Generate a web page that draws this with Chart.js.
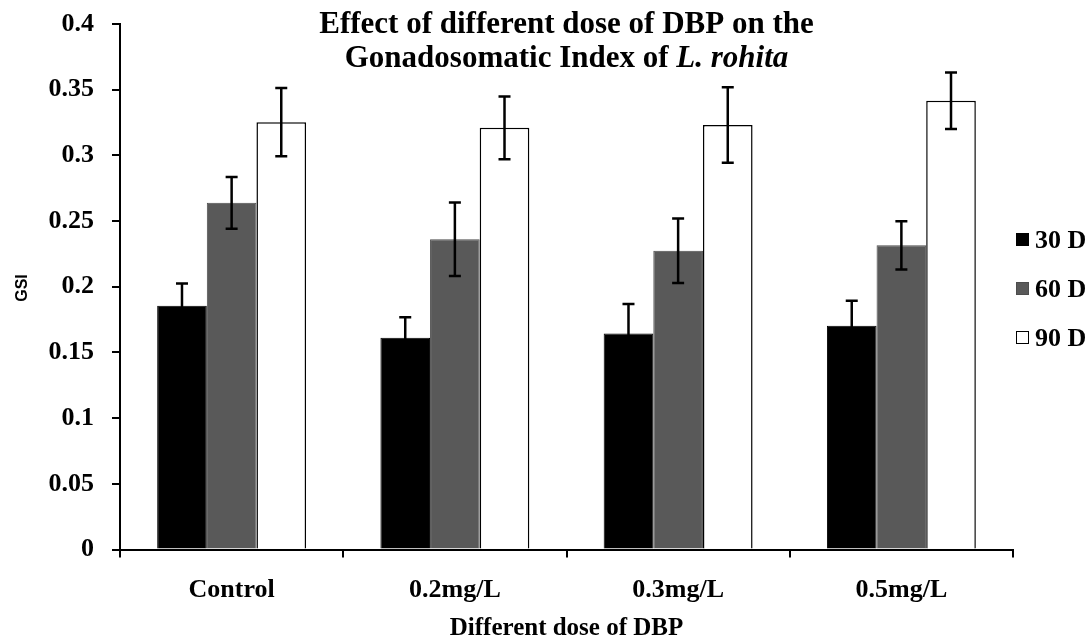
<!DOCTYPE html>
<html>
<head>
<meta charset="utf-8">
<script src="https://cdn.jsdelivr.net/npm/chart.js@4/dist/chart.umd.min.js"></script>
<style>
  html, body { margin: 0; padding: 0; background: #fff; }
  #wrap { width: 1089px; height: 641px; position: relative; }
</style>
</head>
<body>
<div id="wrap"><canvas id="c" width="1089" height="641"></canvas></div>
<script>
const categories = ["Control", "0.2mg/L", "0.3mg/L", "0.5mg/L"];
const seriesNames = ["30 D", "60 D", "90 D"];
const gsi30 = [0.1855, 0.1612, 0.1645, 0.1703];
const gsi60 = [0.2639, 0.2361, 0.2274, 0.2315];
const gsi90 = [0.3253, 0.3210, 0.3231, 0.3416];
const err30 = [0.017, 0.0155, 0.0223, 0.019];
const err60 = [0.0197, 0.028, 0.0245, 0.0184];
const err90 = [0.0259, 0.0239, 0.0287, 0.0215];
const titleLine1 = "Effect of different dose of DBP on the";
const titleLine2a = "Gonadosomatic Index of ";
const titleLine2b = "L. rohita";
const yTitle = "GSI";
const xTitle = "Different dose of DBP";

const SERIF = "'Liberation Serif', 'Times New Roman', serif";
const SANS = "'Liberation Sans', Arial, sans-serif";

const fills = ["#000000", "#595959", "#ffffff"];
const borders = ["#000000", "#4d4d4d", "#000000"];
const errs = [err30, err60, err90];

const errorBarPlugin = {
  id: 'errorBars',
  afterDatasetsDraw(chart) {
    const ctx = chart.ctx;
    const ys = chart.scales.y;
    ctx.save();
    ctx.strokeStyle = '#000';
    ctx.lineWidth = 2.5;
    chart.data.datasets.forEach((ds, di) => {
      const meta = chart.getDatasetMeta(di);
      meta.data.forEach((bar, i) => {
        const v = ds.data[i], e = errs[di][i];
        const yt = ys.getPixelForValue(v + e);
        const yb = ys.getPixelForValue(v - e);
        const x = bar.x, w = 6;
        ctx.beginPath();
        ctx.moveTo(x, yt); ctx.lineTo(x, yb);
        ctx.moveTo(x - w, yt); ctx.lineTo(x + w, yt);
        ctx.moveTo(x - w, yb); ctx.lineTo(x + w, yb);
        ctx.stroke();
      });
    });
    ctx.restore();
  }
};

const decorPlugin = {
  id: 'decor',
  afterDraw(chart) {
    const ctx = chart.ctx;
    const ca = chart.chartArea;
    ctx.save();
    // title
    ctx.fillStyle = '#000';
    ctx.textBaseline = 'alphabetic';
    const cx = (ca.left + ca.right) / 2;
    ctx.font = "bold 31px " + SERIF;
    ctx.textAlign = 'center';
    ctx.fillText(titleLine1, cx, 33);
    ctx.textAlign = 'left';
    const w1 = ctx.measureText(titleLine2a).width;
    ctx.font = "italic bold 31px " + SERIF;
    const w2 = ctx.measureText(titleLine2b).width;
    const sx = cx - (w1 + w2) / 2;
    ctx.font = "bold 31px " + SERIF;
    ctx.fillText(titleLine2a, sx, 67);
    ctx.font = "italic bold 31px " + SERIF;
    ctx.fillText(titleLine2b, sx + w1, 67);

    // y title
    ctx.save();
    ctx.translate(23, 288);
    ctx.rotate(-Math.PI / 2);
    ctx.font = "bold 16px " + SANS;
    ctx.textAlign = 'center';
    ctx.textBaseline = 'middle';
    ctx.fillText(yTitle, 0, 0);
    ctx.restore();

    // legend
    const rows = [240, 289, 338];
    ctx.font = "bold 26px " + SERIF;
    ctx.textAlign = 'left';
    ctx.textBaseline = 'middle';
    seriesNames.forEach((n, i) => {
      const y = rows[i];
      ctx.fillStyle = fills[i];
      ctx.fillRect(1016, y - 7, 13, 13);
      ctx.strokeStyle = borders[i];
      ctx.lineWidth = 1;
      ctx.strokeRect(1016.5, y - 6.5, 12, 12);
      ctx.fillStyle = '#000';
      ctx.fillText(n, 1035, y + 1);
    });
    ctx.restore();
  }
};

new Chart(document.getElementById('c'), {
  type: 'bar',
  data: {
    labels: categories,
    datasets: [
      { label: seriesNames[0], data: gsi30, backgroundColor: fills[0], borderColor: borders[0], borderWidth: 1 },
      { label: seriesNames[1], data: gsi60, backgroundColor: fills[1], borderColor: borders[1], borderWidth: 1 },
      { label: seriesNames[2], data: gsi90, backgroundColor: fills[2], borderColor: borders[2], borderWidth: 1.5 }
    ]
  },
  options: {
    responsive: false,
    animation: false,
    devicePixelRatio: 1,
    layout: { padding: { left: 0, right: 76, top: 24, bottom: 0 } },
    datasets: { bar: { categoryPercentage: 0.667, barPercentage: 1.0 } },
    plugins: {
      legend: { display: false },
      title: { display: false },
      tooltip: { enabled: false }
    },
    scales: {
      x: {
        afterFit(s) { s.height = 91.5; s.paddingLeft = 0; s.paddingRight = 0; },
        grid: { display: true, drawOnChartArea: false, drawTicks: true, tickLength: 8, color: '#000', lineWidth: 2, offset: true },
        border: { display: true, color: '#000', width: 2 },
        ticks: { color: '#000', font: { family: SERIF, size: 26, weight: 'bold' }, padding: 17, maxRotation: 0 },
        title: { display: true, text: xTitle, color: '#000', font: { family: SERIF, size: 25, weight: 'bold', lineHeight: 1.0 }, padding: { top: 0, bottom: 0 } }
      },
      y: {
        min: 0, max: 0.4,
        afterFit(s) { s.width = 120; s.paddingTop = 0; s.paddingBottom = 0; },
        grid: { display: true, drawOnChartArea: false, drawTicks: true, tickLength: 8, color: '#000', lineWidth: 2 },
        border: { display: true, color: '#000', width: 2 },
        ticks: {
          stepSize: 0.05, color: '#000', padding: 18,
          font: { family: SERIF, size: 26, weight: 'bold' },
          callback: v => String(+(+v).toFixed(2))
        }
      }
    }
  },
  plugins: [errorBarPlugin, decorPlugin]
});
</script>
</body>
</html>
